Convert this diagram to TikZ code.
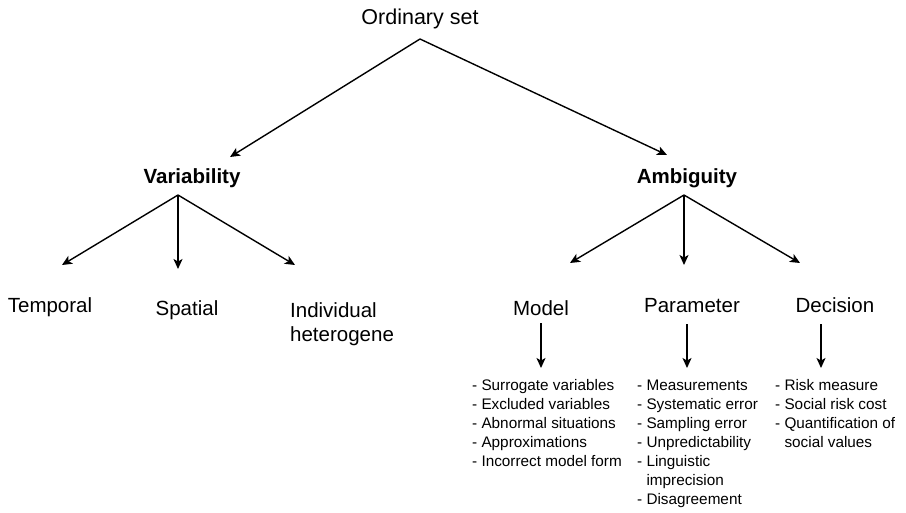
\documentclass[tikz,border=0pt]{standalone}
\usepackage{fontspec}
\setmainfont{Liberation Sans}
\usetikzlibrary{arrows.meta}

\tikzset{
  label/.style={inner sep=0pt, anchor=base, font=\fontsize{20.5}{24}\selectfont},
  head/.style={label, font=\fontsize{20.5}{24}\selectfont\bfseries},
  itemlist/.style={inner sep=0pt, anchor=north west, align=left,
    font=\fontsize{15.3}{19}\selectfont},
  arr/.style={line width=1.4pt, -{Stealth[length=10pt,width=9pt,inset=2.5pt]}},
}

\begin{document}
\begin{tikzpicture}[x=1pt,y=-1pt]
\useasboundingbox (0,0) rectangle (906,512);

% top level
\node[label, font=\fontsize{21.5}{24}\selectfont] (os) at (420,24) {Ordinary set};
\coordinate (osfork) at (420,39);

% second level
\node[head] (var) at (192,183) {Variability};
\node[head] (amb) at (687,183) {Ambiguity};
\coordinate (vartip) at (230,157);
\coordinate (ambtip) at (667,155);

\draw[arr] (osfork) -- (vartip);
\draw[arr] (osfork) -- (ambtip);

% variability branches
\coordinate (varfork) at (178,195);
\node[label] (temp) at (50,312) {Temporal};
\node[label] (spat) at (187,315) {Spatial};
\node[inner sep=0pt, anchor=north west, align=left,
      font=\fontsize{20.5}{24}\selectfont] (indiv) at (290,302.3) {Individual\\heterogene};
\coordinate (temptip) at (62,265);
\coordinate (spattip) at (178,269);
\coordinate (indivtip) at (295,265);
\draw[arr] (varfork) -- (temptip);
\draw[arr] (varfork) -- (spattip);
\draw[arr] (varfork) -- (indivtip);

% ambiguity branches
\coordinate (ambfork) at (684,195);
\node[label] (model) at (541,315) {Model};
\node[label] (param) at (692,312) {Parameter};
\node[label] (dec) at (835,312) {Decision};
\coordinate (modeltip) at (570,263);
\coordinate (paramtip) at (684,265);
\coordinate (dectip) at (800,263);
\draw[arr] (ambfork) -- (modeltip);
\draw[arr] (ambfork) -- (paramtip);
\draw[arr] (ambfork) -- (dectip);

% sources of each kind of ambiguity
\coordinate (modelout) at (541,323);
\coordinate (paramout) at (687,324);
\coordinate (decout) at (821,324);
\coordinate (modelin) at (541,368);
\coordinate (paramin) at (687,368);
\coordinate (decin) at (821,368);
\draw[arr] (modelout) -- (modelin);
\draw[arr] (paramout) -- (paramin);
\draw[arr] (decout) -- (decin);

\node[itemlist] (modellist) at (472,379.3) {%
  - Surrogate variables\\
  - Excluded variables\\
  - Abnormal situations\\
  - Approximations\\
  - Incorrect model form};
\node[itemlist] (paramlist) at (637,379.3) {%
  - Measurements\\
  - Systematic error\\
  - Sampling error\\
  - Unpredictability\\
  - Linguistic\\
  \phantom{- }imprecision\\
  - Disagreement};
\node[itemlist] (declist) at (775,379.3) {%
  - Risk measure\\
  - Social risk cost\\
  - Quantification of\\
  \phantom{- }social values};
\end{tikzpicture}
\end{document}
